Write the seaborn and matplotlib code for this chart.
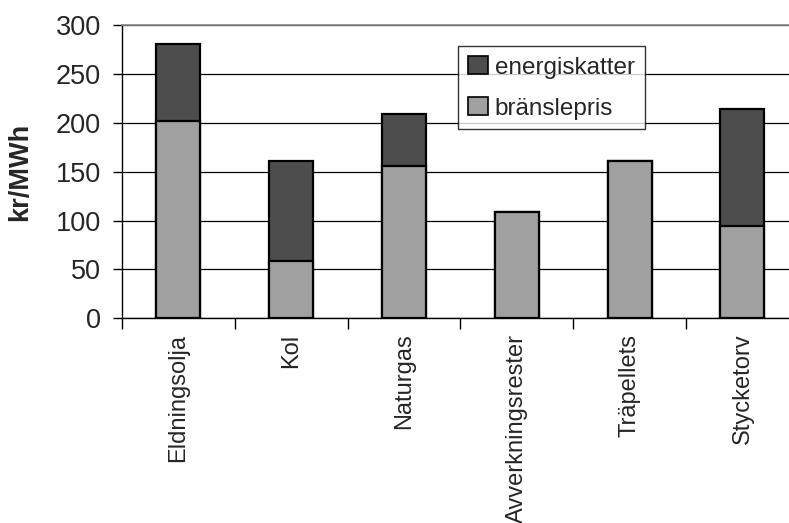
import matplotlib
matplotlib.use("Agg")
import matplotlib.pyplot as plt
from matplotlib.patches import Patch
import seaborn as sns
import pandas as pd

categories = ["Eldningsolja", "Kol", "Naturgas", "Avverkningsrester", "Träpellets", "Stycketorv"]
branslepris = [202, 59, 156, 109, 161, 94]
energiskatter = [79, 102, 53, 0, 0, 120]

dark = "#4d4d4d"
light = "#a0a0a0"

sns.set_theme(style="white")
plt.rcParams["font.family"] = ["Liberation Sans", "DejaVu Sans"]

df = pd.DataFrame({
    "bransle": categories,
    "bränslepris": branslepris,
    "energiskatter": energiskatter,
})
df["total"] = df["bränslepris"] + df["energiskatter"]

fig = plt.figure(figsize=(7.89, 5.23), dpi=100)
ax = fig.add_axes([0.1546, 0.3914, 1.0125 - 0.1546, 0.5608])

sns.barplot(data=df, x="bransle", y="total", color=dark, width=0.39,
            edgecolor="black", linewidth=1.6, saturation=1, ax=ax, zorder=3)
sns.barplot(data=df, x="bransle", y="bränslepris", color=light, width=0.39,
            edgecolor="black", linewidth=1.6, saturation=1, ax=ax, zorder=4)

ax.set_ylim(0, 300)
ax.set_xlim(-0.5, len(categories) - 0.5)
ax.set_yticks(range(0, 301, 50))
ax.yaxis.grid(True, color="black", linewidth=0.9)
ax.set_axisbelow(True)

for s in ["top", "right"]:
    ax.spines[s].set_color("#888888")
    ax.spines[s].set_linewidth(1.2)
for s in ["left", "bottom"]:
    ax.spines[s].set_color("black")
    ax.spines[s].set_linewidth(1.0)

ax.tick_params(axis="y", which="major", left=True, length=6.5, width=1,
               color="black", labelsize=19.5, pad=8.5)
ax.tick_params(axis="x", which="major", bottom=False, labelsize=17, pad=5)
ax.set_xticks(range(len(categories)))
ax.set_xticklabels(categories, rotation=90)
ax.set_xticks([i - 0.5 for i in range(len(categories) + 1)], minor=True)
ax.tick_params(axis="x", which="minor", bottom=True, length=8, width=1, color="black")

ax.set_xlabel("")
ax.set_ylabel("kr/MWh", fontsize=19.5, fontweight="bold")
ax.yaxis.set_label_coords(-0.1315, 0.5)

handles = [Patch(facecolor=dark, edgecolor="black", linewidth=1.2, label="energiskatter"),
           Patch(facecolor=light, edgecolor="black", linewidth=1.2, label="bränslepris")]
leg = ax.legend(handles=handles, loc="upper left", bbox_to_anchor=(0.497, 0.928),
                fontsize=17.5, frameon=True, fancybox=False, edgecolor="black",
                handlelength=0.8, handleheight=0.8, handletextpad=0.3,
                borderpad=0.4, labelspacing=0.75, borderaxespad=0)
leg.get_frame().set_linewidth(1.0)
leg.set_zorder(10)

fig.savefig("out.png", dpi=100)
